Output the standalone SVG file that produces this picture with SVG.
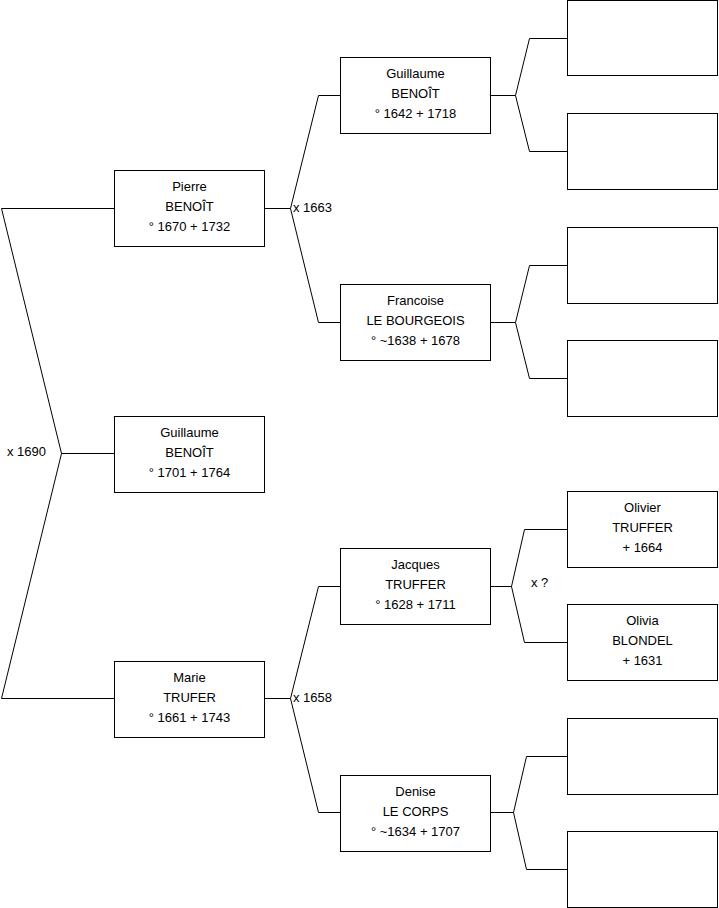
<svg xmlns="http://www.w3.org/2000/svg" width="719" height="908" viewBox="0 0 719 908">
<style>
.box{fill:#fff;stroke:#000;stroke-width:1}
.ln{fill:none;stroke:#000;stroke-width:1}
text{font-family:"Liberation Sans",Arial,sans-serif;font-size:13px;fill:#000}
.c{text-anchor:middle}
</style>
<rect width="719" height="908" fill="#fff"/>
<g id="connectors">
<polyline class="ln" points="114,208.5 1.5,208.5 61.5,453.5 1.5,698.5 114,698.5"/>
<line class="ln" x1="61.5" y1="453.5" x2="114" y2="453.5"/>
<polyline class="ln" points="265,208.5 290.5,208.5"/>
<polyline class="ln" points="340,95.5 318.5,95.5 290.5,208.5 318.5,322.5 340,322.5"/>
<polyline class="ln" points="265,698.5 290.5,698.5"/>
<polyline class="ln" points="340,586.5 318.5,586.5 290.5,698.5 318.5,812.5 340,812.5"/>
<polyline class="ln" points="491,95.5 515.5,95.5"/>
<polyline class="ln" points="567,38.5 529.5,38.5 515.5,95.5 529.5,151.5 567,151.5"/>
<polyline class="ln" points="491,322.5 515.5,322.5"/>
<polyline class="ln" points="567,265.5 529.5,265.5 515.5,322.5 529.5,378.5 567,378.5"/>
<polyline class="ln" points="491,586.5 511.5,586.5"/>
<polyline class="ln" points="567,529.5 524.5,529.5 511.5,586.5 524.5,642.5 567,642.5"/>
<polyline class="ln" points="491,812.5 513.5,812.5"/>
<polyline class="ln" points="567,756.5 526.5,756.5 513.5,812.5 526.5,869.5 567,869.5"/>
<text x="7" y="456">x 1690</text>
<text x="293" y="212">x 1663</text>
<text x="293" y="702">x 1658</text>
<text x="531" y="587">x ?</text>
</g>
<g id="pierre"><rect class="box" x="114.5" y="170.5" width="150" height="76"/>
<text class="c" x="189.5" y="191">Pierre</text><text class="c" x="189.5" y="211">BENOÎT</text><text class="c" x="189.5" y="231">° 1670 + 1732</text></g>
<g id="guillaume1"><rect class="box" x="114.5" y="416.5" width="150" height="76"/>
<text class="c" x="189.5" y="437">Guillaume</text><text class="c" x="189.5" y="457">BENOÎT</text><text class="c" x="189.5" y="477">° 1701 + 1764</text></g>
<g id="marie"><rect class="box" x="114.5" y="661.5" width="150" height="76"/>
<text class="c" x="189.5" y="682">Marie</text><text class="c" x="189.5" y="702">TRUFER</text><text class="c" x="189.5" y="722">° 1661 + 1743</text></g>
<g id="guillaume2"><rect class="box" x="340.5" y="57.5" width="150" height="76"/>
<text class="c" x="415.5" y="78">Guillaume</text><text class="c" x="415.5" y="98">BENOÎT</text><text class="c" x="415.5" y="118">° 1642 + 1718</text></g>
<g id="francoise"><rect class="box" x="340.5" y="284.5" width="150" height="76"/>
<text class="c" x="415.5" y="305">Francoise</text><text class="c" x="415.5" y="325">LE BOURGEOIS</text><text class="c" x="415.5" y="345">° ~1638 + 1678</text></g>
<g id="jacques"><rect class="box" x="340.5" y="548.5" width="150" height="76"/>
<text class="c" x="415.5" y="569">Jacques</text><text class="c" x="415.5" y="589">TRUFFER</text><text class="c" x="415.5" y="609">° 1628 + 1711</text></g>
<g id="denise"><rect class="box" x="340.5" y="775.5" width="150" height="76"/>
<text class="c" x="415.5" y="796">Denise</text><text class="c" x="415.5" y="816">LE CORPS</text><text class="c" x="415.5" y="836">° ~1634 + 1707</text></g>
<g id="empty1"><rect class="box" x="567.5" y="0.5" width="150" height="75"/></g>
<g id="empty2"><rect class="box" x="567.5" y="113.5" width="150" height="76"/></g>
<g id="empty3"><rect class="box" x="567.5" y="227.5" width="150" height="76"/></g>
<g id="empty4"><rect class="box" x="567.5" y="340.5" width="150" height="76"/></g>
<g id="olivier"><rect class="box" x="567.5" y="491.5" width="150" height="76"/>
<text class="c" x="642.5" y="512">Olivier</text><text class="c" x="642.5" y="532">TRUFFER</text><text class="c" x="642.5" y="552">+ 1664</text></g>
<g id="olivia"><rect class="box" x="567.5" y="604.5" width="150" height="76"/>
<text class="c" x="642.5" y="625">Olivia</text><text class="c" x="642.5" y="645">BLONDEL</text><text class="c" x="642.5" y="665">+ 1631</text></g>
<g id="empty5"><rect class="box" x="567.5" y="718.5" width="150" height="76"/></g>
<g id="empty6"><rect class="box" x="567.5" y="831.5" width="150" height="76"/></g>
</svg>
